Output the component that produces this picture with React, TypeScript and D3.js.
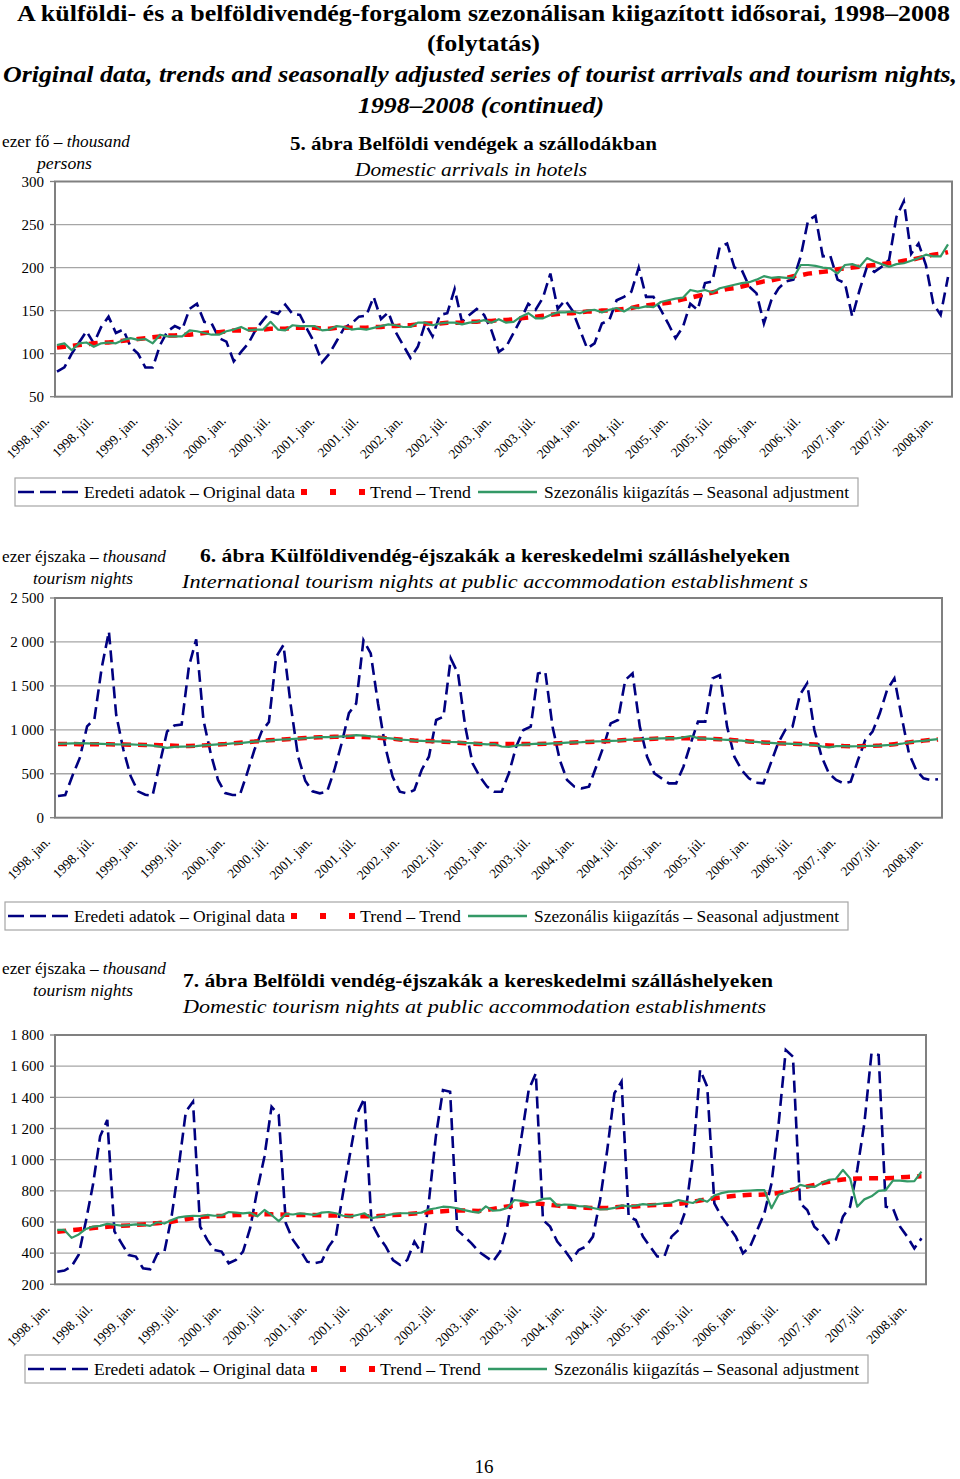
import React from 'react'
import * as d3 from 'd3'

// havi kategóriák: 1998. jan. – 2008. febr. (122 hónap)
const months = d3.range(1998, 2009)
  .flatMap(y => d3.range(1, 13).map(m => `${y}-${String(m).padStart(2, '0')}`))
  .slice(0, 122)

const tickLabels = [
  '1998. jan.', '1998. júl.', '1999. jan.', '1999. júl.', '2000. jan.', '2000. júl.',
  '2001. jan.', '2001. júl.', '2002. jan.', '2002. júl.', '2003. jan.', '2003. júl.',
  '2004. jan.', '2004. júl.', '2005. jan.', '2005. júl.', '2006. jan.', '2006. júl.',
  '2007. jan.', '2007.júl.', '2008.jan.'
]

// 5. ábra – belföldi vendégek a szállodákban (ezer fő)
const arrivalsOriginal = [
  79, 84, 100, 113, 126, 112, 131, 143, 124, 128, 108, 100,
  84, 84, 110, 126, 132, 128, 152, 158, 137, 135, 118, 114,
  91, 102, 112, 128, 139, 149, 146, 157, 146, 145, 128, 112,
  90, 100, 115, 130, 135, 143, 144, 166, 140, 148, 125, 110,
  95, 108, 135, 120, 145, 147, 175, 137, 145, 152, 145, 127,
  102, 108, 124, 140, 158, 151, 165, 193, 152, 162, 150, 128,
  106, 112, 135, 139, 162, 166, 172, 200, 166, 166, 151, 135,
  118, 131, 158, 151, 182, 184, 224, 228, 200, 197, 178, 170,
  135, 162, 176, 184, 186, 213, 255, 260, 213, 214, 186, 182,
  143, 174, 201, 195, 201, 209, 259, 277, 216, 228, 203, 158,
  145, 189
]
const arrivalsTrend = [
  107, 108, 109, 110, 111, 112, 113, 113, 114, 115, 116, 117,
  118, 119, 120, 121, 121, 122, 122, 123, 124, 125, 125, 126,
  127, 127, 128, 128, 128, 129, 129, 129, 130, 130, 130, 130,
  129, 129, 130, 130, 130, 130, 130, 131, 131, 132, 132, 133,
  133, 134, 135, 135, 135, 136, 136, 136, 137, 137, 138, 138,
  139, 139, 140, 141, 142, 143, 144, 145, 146, 147, 147, 148,
  149, 149, 150, 150, 151, 152, 153, 155, 156, 157, 158, 159,
  161, 163, 165, 167, 169, 171, 173, 175, 176, 178, 180, 182,
  184, 185, 187, 188, 190, 191, 193, 194, 195, 196, 198, 199,
  200, 201, 202, 203, 204, 205, 206, 208, 209, 211, 213, 215,
  216, 218
]
const arrivalsSA = [
  110, 112, 104, 112, 113, 108, 112, 113, 112, 116, 118, 116,
  117, 112, 122, 120, 120, 120, 127, 126, 124, 122, 122, 126,
  128, 131, 127, 128, 128, 137, 128, 127, 133, 132, 132, 132,
  127, 128, 132, 131, 128, 129, 128, 130, 132, 134, 133, 131,
  131, 136, 136, 133, 135, 136, 136, 134, 136, 137, 139, 136,
  140, 136, 137, 143, 147, 141, 141, 145, 148, 148, 149, 147,
  150, 151, 148, 151, 153, 149, 154, 153, 155, 154, 160, 162,
  164, 165, 174, 172, 174, 171, 176, 178, 180, 182, 183, 186,
  190, 188, 189, 188, 188, 203, 203, 202, 200, 199, 193, 203,
  204, 201, 211, 207, 204, 201, 204, 205, 208, 211, 215, 213,
  213, 227
]

// 6. ábra – külföldivendég-éjszakák (ezer éjszaka)
const foreignOriginal = [
  247, 258, 480, 680, 1040, 1120, 1700, 2120, 1170, 770, 470, 300,
  262, 250, 620, 980, 1050, 1060, 1720, 2030, 1110, 730, 430, 280,
  258, 258, 505, 770, 980, 1090, 1830, 1965, 1280, 700, 420, 300,
  277, 296, 543, 846, 1190, 1300, 2020, 1870, 1300, 808, 467, 296,
  277, 315, 543, 694, 1112, 1150, 1813, 1643, 1036, 618, 467, 353,
  296, 296, 505, 808, 998, 1036, 1640, 1662, 1036, 656, 429, 353,
  334, 353, 580, 808, 1074, 1112, 1567, 1642, 1036, 694, 505, 448,
  391, 391, 580, 846, 1093, 1093, 1585, 1623, 1036, 694, 543, 448,
  398, 391, 618, 846, 998, 1036, 1396, 1528, 998, 694, 505, 429,
  391, 410, 656, 884, 979, 1188, 1453, 1585, 1150, 732, 543, 448,
  429, 437
]
const foreignTrend = [
  838, 838, 838, 837, 837, 837, 836, 835, 834, 832, 830, 829,
  828, 827, 825, 822, 818, 815, 815, 818, 823, 828, 833, 838,
  845, 852, 860, 866, 874, 880, 886, 891, 896, 901, 906, 911,
  915, 919, 921, 922, 922, 921, 918, 914, 910, 905, 898, 890,
  883, 878, 875, 872, 869, 865, 860, 854, 848, 843, 839, 838,
  838, 838, 838, 838, 839, 839, 840, 842, 845, 848, 852, 856,
  859, 862, 866, 870, 874, 879, 883, 887, 891, 895, 899, 902,
  903, 904, 904, 903, 902, 900, 897, 893, 888, 882, 875, 868,
  862, 857, 852, 848, 845, 842, 839, 836, 833, 828, 823, 819,
  815, 814, 814, 815, 817, 821, 827, 836, 846, 857, 868, 877,
  884, 891
]
const foreignSA = [
  840, 842, 845, 848, 845, 842, 840, 838, 835, 833, 835, 830,
  825, 820, 808, 795, 805, 808, 810, 815, 822, 828, 834, 838,
  845, 848, 858, 866, 870, 878, 885, 890, 895, 900, 905, 912,
  918, 916, 920, 925, 928, 940, 935, 925, 918, 908, 900, 888,
  884, 878, 875, 870, 868, 866, 862, 860, 852, 848, 840, 835,
  838, 810, 805, 820, 832, 838, 842, 840, 846, 848, 855, 858,
  860, 864, 868, 870, 875, 878, 885, 888, 892, 896, 900, 902,
  905, 903, 915, 930, 905, 900, 896, 890, 885, 880, 876, 866,
  862, 855, 852, 845, 842, 840, 838, 832, 828, 812, 800, 815,
  815, 812, 813, 816, 818, 820, 825, 830, 842, 858, 868, 875,
  885, 895
]

// 7. ábra – belföldi vendég-éjszakák (ezer éjszaka)
const domesticOriginal = [
  281, 288, 315, 390, 605, 840, 1150, 1255, 540, 463, 388, 378,
  303, 296, 395, 410, 634, 955, 1308, 1372, 570, 485, 420, 410,
  335, 356, 410, 560, 805, 1019, 1340, 1287, 591, 485, 420, 345,
  335, 345, 442, 506, 784, 1041, 1297, 1394, 591, 506, 442, 356,
  324, 356, 474, 399, 720, 1148, 1447, 1436, 549, 506, 463, 410,
  378, 345, 410, 570, 848, 1148, 1447, 1554, 613, 570, 474, 420,
  356, 420, 442, 506, 741, 1062, 1426, 1501, 634, 613, 506, 442,
  378, 378, 506, 549, 677, 1019, 1576, 1469, 720, 634, 570, 506,
  399, 442, 549, 656, 848, 1233, 1704, 1661, 720, 677, 570, 527,
  463, 485, 634, 698, 934, 1233, 1683, 1672, 698, 688, 570, 506,
  431, 495
]
const domesticTrend = [
  538, 542, 547, 552, 557, 561, 565, 569, 572, 575, 578, 581,
  584, 588, 592, 597, 602, 610, 618, 626, 632, 635, 637, 639,
  641, 644, 646, 648, 649, 649, 649, 648, 647, 646, 645, 645,
  644, 643, 642, 641, 640, 639, 637, 636, 636, 638, 641, 644,
  647, 651, 655, 659, 663, 666, 669, 672, 673, 673, 672, 670,
  676, 684, 692, 699, 705, 712, 717, 719, 716, 710, 705, 700,
  697, 694, 692, 690, 689, 690, 694, 697, 698, 700, 704, 707,
  709, 710, 712, 716, 722, 730, 738, 746, 752, 758, 763, 768,
  772, 774, 775, 777, 780, 786, 796, 808, 818, 828, 838, 848,
  858, 866, 873, 877, 879, 880, 880, 880, 881, 883, 886, 889,
  891, 893
]
const domesticSA = [
  549, 549, 498, 520, 555, 570, 575, 588, 582, 576, 580, 585,
  582, 575, 598, 590, 612, 630, 636, 640, 637, 645, 640, 642,
  664, 660, 655, 660, 636, 677, 645, 605, 652, 648, 655, 650,
  645, 660, 664, 656, 640, 634, 645, 656, 624, 634, 642, 650,
  656, 656, 656, 660, 680, 688, 698, 695, 688, 676, 666, 660,
  700, 672, 676, 690, 741, 735, 725, 730, 748, 752, 705, 712,
  710, 702, 700, 690, 680, 683, 690, 706, 700, 705, 715, 710,
  715, 720, 725, 741, 730, 722, 748, 730, 770, 785, 795, 797,
  800, 802, 804, 805, 688, 775, 790, 805, 838, 828, 825, 850,
  870, 876, 934, 880, 698, 745, 765, 800, 805, 865, 865, 860,
  862, 923
]

const NAVY = '#000080'
const RED = '#ff0000'
const GREEN = '#339966'
const GRID = '#a6a6a6'
const FONT = "'Liberation Serif', 'Times New Roman', Tinos, 'Nimbus Roman', 'Nimbus Roman No9 L', FreeSerif, Times, 'Noto Serif', serif"

const huFormat = d3.formatLocale({
  decimal: ',', thousands: '\u00a0', grouping: [3], currency: ['', '']
}).format(',d')

interface PanelProps {
  original: number[]
  trend: number[]
  adjusted: number[]
  domain: [number, number]
  step: number
  left: number
  right: number
  top: number
  bottom: number
  x0: number
  x1: number
}

function Panel({ original, trend, adjusted, domain, step, left, right, top, bottom, x0, x1 }: PanelProps) {
  const x = d3.scalePoint<string>().domain(months).range([x0, x1])
  const y = d3.scaleLinear().domain(domain).range([bottom, top])
  const ticks = d3.range(domain[0], domain[1] + step / 2, step)
  const line = d3.line<number>().x((_, i) => x(months[i])!).y(d => y(d))

  return (
    <g>
      {/* rácsvonalak */}
      {ticks.slice(1, -1).map(t => (
        <line key={t} x1={left} x2={right} y1={y(t)} y2={y(t)} stroke={GRID} strokeWidth={1.3} />
      ))}
      {ticks.map(t => (
        <g key={'t' + t}>
          <line x1={left - 5} x2={left} y1={y(t)} y2={y(t)} stroke="#808080" strokeWidth={1.3} />
          <text x={44} y={y(t)} dy="0.35em" textAnchor="end" fontSize={15}>
            {huFormat(t)}
          </text>
        </g>
      ))}

      <path d={line(original)!} fill="none" stroke={NAVY} strokeWidth={2.6} strokeDasharray="12,6" />
      <path d={line(trend)!} fill="none" stroke={RED} strokeWidth={4.5} strokeDasharray="9,7" />
      <path d={line(adjusted)!} fill="none" stroke={GREEN} strokeWidth={2.2} strokeLinejoin="round" />

      <rect x={left} y={top} width={right - left} height={bottom - top} fill="none" stroke="#808080" strokeWidth={2} />

      {/* x tengely feliratai */}
      {tickLabels.map((lab, i) => {
        const px = x(months[i * 6])! - 7
        const py = bottom + 25
        return (
          <text key={lab} x={px} y={py} fontSize={13.5} textAnchor="end" transform={`rotate(-45 ${px} ${py})`}>
            {lab}
          </text>
        )
      })}
    </g>
  )
}

function Legend({ x, y }: { x: number; y: number }) {
  return (
    <g transform={`translate(${x},${y})`} fontSize={16}>
      <rect x={0} y={0} width={843} height={28} fill="#fff" stroke="#a6a6a6" strokeWidth={1.2} />
      <line x1={3} x2={63} y1={14} y2={14} stroke={NAVY} strokeWidth={2.6} strokeDasharray="16,6" />
      <text x={69} y={20} textLength={211} lengthAdjust="spacingAndGlyphs">Eredeti adatok – Original data</text>
      <line x1={286} x2={350} y1={14} y2={14} stroke={RED} strokeWidth={6} strokeDasharray="6,23" />
      <text x={355} y={20} textLength={101} lengthAdjust="spacingAndGlyphs">Trend – Trend</text>
      <line x1={463} x2={522} y1={14} y2={14} stroke={GREEN} strokeWidth={2.5} />
      <text x={529} y={20} textLength={305} lengthAdjust="spacingAndGlyphs">Szezonális kiigazítás – Seasonal adjustment</text>
    </g>
  )
}

interface HeaderProps {
  unit1: string
  unit2: string
  unitY: number
  unit2X: number
  unitW: number
  unit2W: number
  title: string
  subtitle: string
  titleX: number
  titleY: number
  titleW: number
  subX: number
  subY: number
  subW: number
}

function Header(p: HeaderProps) {
  return (
    <g>
      <text x={2} y={p.unitY} fontSize={16.5} textLength={p.unitW} lengthAdjust="spacingAndGlyphs">
        {p.unit1}<tspan fontStyle="italic">thousand</tspan>
      </text>
      <text x={p.unit2X} y={p.unitY + 22} fontSize={16.5} fontStyle="italic" textLength={p.unit2W} lengthAdjust="spacingAndGlyphs">
        {p.unit2}
      </text>
      <text x={p.titleX} y={p.titleY} fontSize={19.5} fontWeight="bold" textLength={p.titleW} lengthAdjust="spacingAndGlyphs">
        {p.title}
      </text>
      <text x={p.subX} y={p.subY} fontSize={19.5} fontStyle="italic" textLength={p.subW} lengthAdjust="spacingAndGlyphs">
        {p.subtitle}
      </text>
    </g>
  )
}

export default function App() {
  return (
    <svg
      width={960}
      height={1479}
      style={{ position: 'absolute', left: 0, top: 0, background: '#fff', fontFamily: FONT }}
      fill="#000"
    >
      {/* főcím */}
      <text x={17} y={21} fontSize={24} fontWeight="bold" textLength={933} lengthAdjust="spacingAndGlyphs">
        A külföldi- és a belföldivendég-forgalom szezonálisan kiigazított idősorai, 1998–2008
      </text>
      <text x={427} y={51} fontSize={24} fontWeight="bold" textLength={113} lengthAdjust="spacingAndGlyphs">(folytatás)</text>
      <text x={3} y={82} fontSize={24} fontWeight="bold" fontStyle="italic" textLength={954} lengthAdjust="spacingAndGlyphs">
        Original data, trends and seasonally adjusted series of tourist arrivals and tourism nights,
      </text>
      <text x={358} y={113} fontSize={24} fontWeight="bold" fontStyle="italic" textLength={246} lengthAdjust="spacingAndGlyphs">
        1998–2008 (continued)
      </text>

      {/* 5. ábra */}
      <Header
        unit1="ezer fő – " unit2="persons" unitY={147} unit2X={37} unitW={128} unit2W={55}
        title="5. ábra Belföldi vendégek a szállodákban" subtitle="Domestic arrivals in hotels"
        titleX={290} titleY={150} titleW={367} subX={355} subY={176} subW={232}
      />
      <Panel
        original={arrivalsOriginal} trend={arrivalsTrend} adjusted={arrivalsSA}
        domain={[50, 300]} step={50}
        left={55} right={952} top={181.5} bottom={396.7} x0={57} x1={948}
      />
      <Legend x={15} y={478} />

      {/* 6. ábra */}
      <Header
        unit1="ezer éjszaka – " unit2="tourism nights" unitY={562} unit2X={33} unitW={164} unit2W={100}
        title="6. ábra Külföldivendég-éjszakák a kereskedelmi szálláshelyeken"
        subtitle="International tourism nights at public accommodation establishment s"
        titleX={200} titleY={562} titleW={590} subX={182} subY={588} subW={626}
      />
      <Panel
        original={foreignOriginal} trend={foreignTrend} adjusted={foreignSA}
        domain={[0, 2500]} step={500}
        left={55} right={942} top={598} bottom={817.7} x0={58} x1={938}
      />
      <Legend x={5} y={902} />

      {/* 7. ábra */}
      <Header
        unit1="ezer éjszaka – " unit2="tourism nights" unitY={974} unit2X={33} unitW={164} unit2W={100}
        title="7. ábra Belföldi vendég-éjszakák a kereskedelmi szálláshelyeken"
        subtitle="Domestic tourism nights at public accommodation establishments"
        titleX={183} titleY={987} titleW={590} subX={183} subY={1013} subW={583}
      />
      <Panel
        original={domesticOriginal} trend={domesticTrend} adjusted={domesticSA}
        domain={[200, 1800]} step={200}
        left={55} right={926} top={1035} bottom={1284.3} x0={57.3} x1={921.5}
      />
      <Legend x={25} y={1355} />

      <text x={484} y={1473} fontSize={19} textAnchor="middle">16</text>
    </svg>
  )
}
